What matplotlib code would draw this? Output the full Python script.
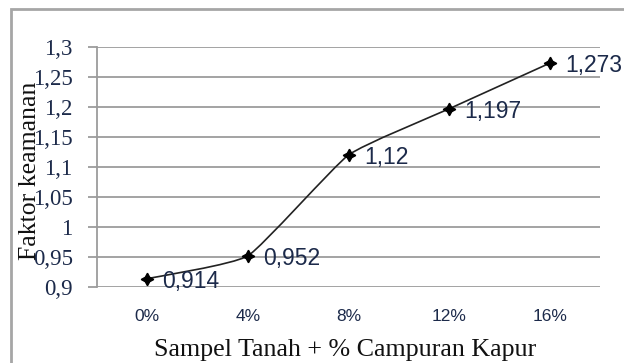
import matplotlib
matplotlib.use("Agg")
import matplotlib.pyplot as plt
from matplotlib.path import Path
from matplotlib.patches import PathPatch, Rectangle
import numpy as np

# Data
categories = ["0%", "4%", "8%", "12%", "16%"]
safety_factor = [0.914, 0.952, 1.12, 1.197, 1.273]
value_labels = ["0,914", "0,952", "1,12", "1,197", "1,273"]
y_ticks = [0.9, 0.95, 1.0, 1.05, 1.1, 1.15, 1.2, 1.25, 1.3]
y_tick_labels = ["0,9", "0,95", "1", "1,05", "1,1", "1,15", "1,2", "1,25", "1,3"]

text_color = "#1c2a4a"
grid_color = "#9c9c9c"
serif = ["Liberation Serif", "DejaVu Serif"]
sans = ["Liberation Sans", "DejaVu Sans"]

fig = plt.figure(figsize=(6.24, 3.63), dpi=100)
ax = fig.add_axes([97 / 624, 1 - 287 / 363, (600 - 97) / 624, (287 - 47) / 363])

x = np.arange(len(categories))
y = np.array(safety_factor)

# Lightly smoothed connecting line (cubic Bezier through the data points)
tension = 1.0 / 14.0
verts = [(x[0], y[0])]
codes = [Path.MOVETO]
n = len(x)
for i in range(n - 1):
    p0 = np.array([x[max(i - 1, 0)], y[max(i - 1, 0)]])
    p1 = np.array([x[i], y[i]])
    p2 = np.array([x[i + 1], y[i + 1]])
    p3 = np.array([x[min(i + 2, n - 1)], y[min(i + 2, n - 1)]])
    c1 = p1 + (p2 - p0) * tension
    c2 = p2 - (p3 - p1) * tension
    verts += [tuple(c1), tuple(c2), tuple(p2)]
    codes += [Path.CURVE4, Path.CURVE4, Path.CURVE4]
ax.add_patch(PathPatch(Path(verts, codes), facecolor="none", edgecolor="#222222",
                       lw=1.2, zorder=3))
ax.plot(x, y, linestyle="none", marker=(4, 1, 0), markersize=9, color="black", zorder=4)

for xi, yi, lab in zip(x, y, value_labels):
    ax.annotate(lab, (xi, yi), xytext=(11, -2), textcoords="offset points",
                ha="left", va="center", fontsize=16.5, family=sans, color=text_color,
                zorder=5)

ax.set_xlim(-0.5, n - 0.5)
ax.set_ylim(0.9, 1.3)
ax.set_xticks(x)
ax.set_xticklabels(categories, fontsize=12.5, family=sans, color=text_color)
ax.set_yticks(y_ticks)
ax.set_yticklabels(y_tick_labels, fontsize=16.5, family=serif, color=text_color)
ax.tick_params(axis="x", length=0, pad=16)
ax.tick_params(axis="y", length=6.5, width=1.3, color=grid_color, pad=11, direction="out")

ax.grid(axis="y", color=grid_color, lw=1.3)
ax.set_axisbelow(True)
for s in ["top", "right", "bottom"]:
    ax.spines[s].set_visible(False)
ax.spines["left"].set_color(grid_color)
ax.spines["left"].set_linewidth(1.3)
ax.patch.set_visible(False)

fig.text(345 / 624, 1 - 356 / 363, "Sampel Tanah + % Campuran Kapur", ha="center",
         va="baseline", fontsize=18.7, family=serif, color="#111111")
fig.text(30 / 624, 1 - 171 / 363, "Faktor keamanan", ha="center", va="center",
         rotation=90, fontsize=18.5, family=serif, color="#111111")

# Outer frame (open at the right and bottom edges)
fig.add_artist(Rectangle((11 / 624, -0.5), 2.0, 1 - 9 / 363 + 0.5,
                         transform=fig.transFigure, fill=False,
                         edgecolor="#a6a6a6", lw=2.0))

fig.savefig("out.png", dpi=100)
